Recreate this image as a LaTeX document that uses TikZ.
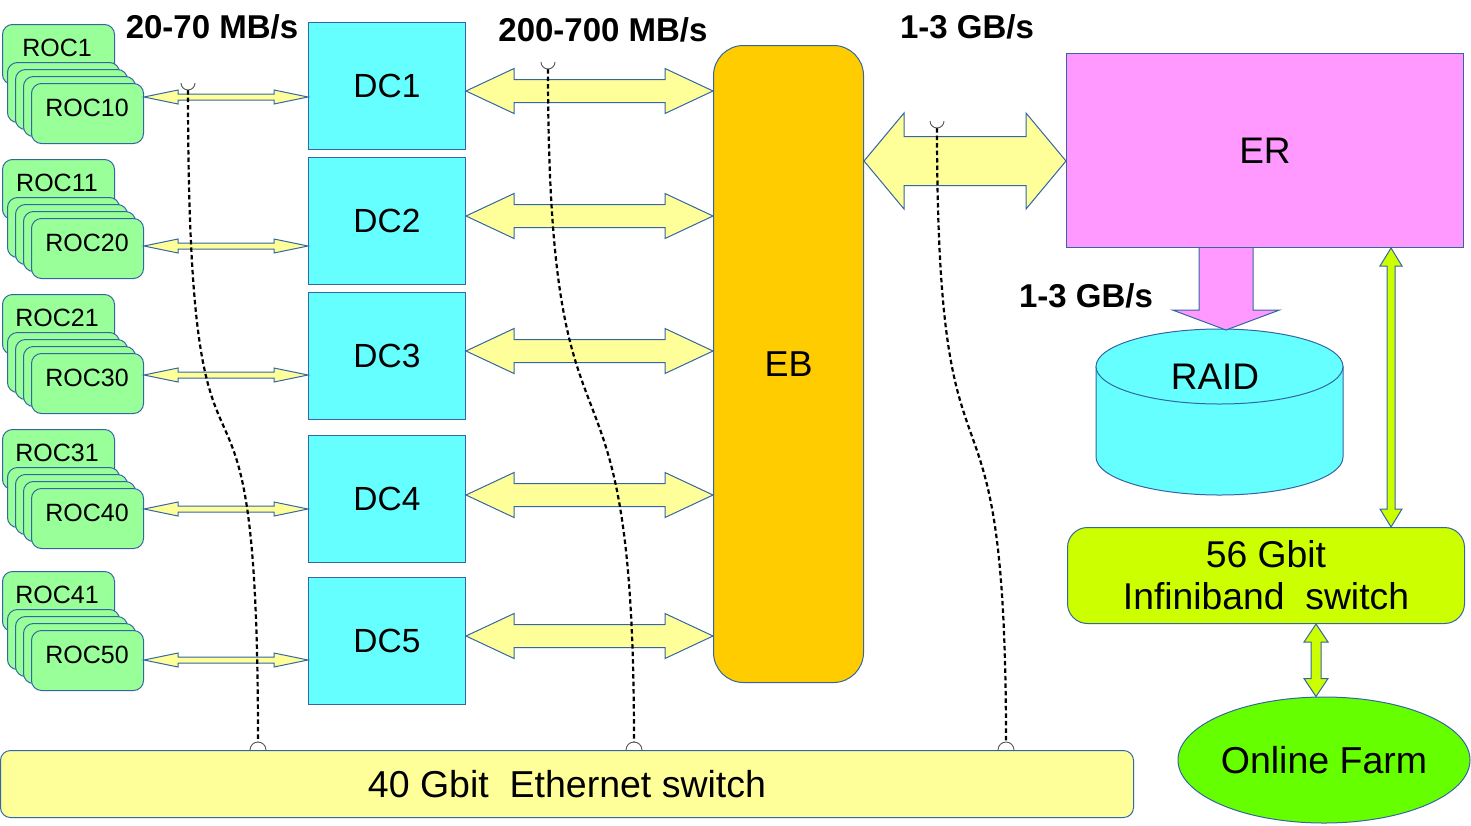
\documentclass[tikz,border=0pt]{standalone}
\usepackage{fontspec}
\setmainfont{Liberation Sans}
\usetikzlibrary{calc,shapes.geometric}
\definecolor{bl}{HTML}{3465A4}
\definecolor{rocg}{HTML}{99FF99}
\definecolor{dcc}{HTML}{66FFFF}
\definecolor{ebc}{HTML}{FFCC00}
\definecolor{erc}{HTML}{FF99FF}
\definecolor{yel}{HTML}{FFFF99}
\definecolor{limec}{HTML}{CCFF00}
\definecolor{farmc}{HTML}{66FF00}
\definecolor{cupc}{HTML}{555555}
% horizontal block double arrow: style, left anchor, right anchor, y, head length, head half, shaft half
\newcommand{\hdarrow}[7]{%
  \path[#1] let \p1=(#2), \p2=(#3), \p3=(0,#4) in
  (\x1,\y3) -- (\x1+#5,\y3+#6) -- (\x1+#5,\y3+#7) -- (\x2-#5,\y3+#7) -- (\x2-#5,\y3+#6) -- (\x2,\y3)
  -- (\x2-#5,\y3-#6) -- (\x2-#5,\y3-#7) -- (\x1+#5,\y3-#7) -- (\x1+#5,\y3-#6) -- cycle;}
% vertical block double arrow: style, top anchor, bottom anchor, x, head length, head half, shaft half
\newcommand{\vdarrow}[7]{%
  \path[#1] let \p1=(#2), \p2=(#3), \p3=(#4,0) in
  (\x3,\y1) -- (\x3+#6,\y1-#5) -- (\x3+#7,\y1-#5) -- (\x3+#7,\y2+#5) -- (\x3+#6,\y2+#5) -- (\x3,\y2)
  -- (\x3-#6,\y2+#5) -- (\x3-#7,\y2+#5) -- (\x3-#7,\y1-#5) -- (\x3-#6,\y1-#5) -- cycle;}
\tikzset{
  boxbase/.style={draw=bl, line width=1pt, inner sep=0pt, anchor=north west},
  rocbox/.style={boxbase, fill=rocg, rounded corners=10pt, minimum width=112pt, minimum height=60pt},
  roctext/.style={font=\fontsize{25}{29}\selectfont, inner sep=0pt},
  dcbox/.style={boxbase, fill=dcc, minimum width=157pt, minimum height=127pt, font=\fontsize{33.5}{40}\selectfont},
  yarrow/.style={draw=bl, line width=1pt, fill=yel, line join=miter},
  garrow/.style={draw=bl, line width=1pt, fill=limec},
  rate/.style={font=\bfseries\fontsize{33}{38}\selectfont, inner sep=0pt},
  dotline/.style={black, line width=2.2pt, dash pattern=on 4.5pt off 3pt},
  cup/.style={cupc, line width=0.9pt}
}
\begin{document}
\begin{tikzpicture}[x=1pt,y=-1pt]
\useasboundingbox (0,0) rectangle (1471,825);

% DC boxes
\foreach \T [count=\i] in {22,157,292,435,577}{
  \node[dcbox] (dc\i) at (308,\T) {DC\i};
}
% EB, ER
\node[boxbase, fill=ebc, rounded corners=30pt, minimum width=150pt, minimum height=637pt,
      font=\fontsize{36}{42}\selectfont] (eb) at (713,45) {EB};
\node[boxbase, fill=erc, minimum width=397pt, minimum height=194pt,
      font=\fontsize{37}{42}\selectfont] (er) at (1066,53) {ER};

% ROC groups with arrows
\foreach \T/\a/\b/\ay/\dy [count=\i] in {24/1/10/97/91, 159/11/20/246/216, 294/21/30/375/351, 429/31/40/509/495, 571/41/50/660/636}{
  \node[rocbox] (roc\i-a) at (2,\T) {};
  \node[rocbox] (roc\i-b) at (7,\T+38) {};
  \node[rocbox] (roc\i-c) at (15,\T+45) {};
  \node[rocbox] (roc\i-d) at (23,\T+52) {};
  \node[rocbox] (roc\i-e) at (31,\T+59) {};
  \node[roctext] (roct\i-a) at (57,\T+24) {ROC\a};
  \node[roctext] (roct\i-e) at (87,\T+84) {ROC\b};
  \hdarrow{yarrow}{roc\i-e.east}{dc\i.west}{\ay}{34}{7}{3}
  \hdarrow{yarrow}{dc\i.east}{eb.west}{\dy}{48}{22.5}{11.5}
}

% EB <-> ER
\hdarrow{yarrow}{eb.east}{er.west}{161}{40}{48}{24.5}

% RAID cylinder
\path[draw=bl, line width=1pt, fill=dcc] (1096,366.5) -- (1096,457)
  arc[start angle=180, end angle=360, x radius=123.5pt, y radius=38pt] -- (1343,366.5) -- cycle;
\path[draw=bl, line width=1pt, fill=dcc] (1219.5,366.5) ellipse[x radius=123.5pt, y radius=37.5pt];
\node[inner sep=0pt, font=\fontsize{37}{42}\selectfont] (raid) at (1215,377) {RAID};
\coordinate (raidtop) at (1226,330);

% ER -> RAID arrow
\path[draw=bl, line width=1pt, fill=erc] let \p1=(er.south), \p2=(raidtop) in
  (\x2+27pt,\y1) -- (\x2+27pt,\y2+20pt) -- (\x2+53.5pt,\y2+20pt) -- (\x2,\y2)
  -- (\x2-53.5pt,\y2+20pt) -- (\x2-27pt,\y2+20pt) -- (\x2-27pt,\y1);

% Infiniband switch and Online farm
\node[boxbase, fill=limec, rounded corners=20pt, minimum width=397pt, minimum height=96pt,
      align=center, font=\fontsize{37.3}{42}\selectfont] (ib) at (1067,527) {56 Gbit\\Infiniband\ \ switch};
\node[draw=bl, line width=1pt, fill=farmc, ellipse, inner sep=0pt, minimum width=292pt, minimum height=126pt,
      font=\fontsize{37.5}{42}\selectfont] (farm) at (1324,760) {Online Farm};
\vdarrow{garrow}{er.south}{ib.north}{1391}{18}{11}{4}
\vdarrow{garrow}{ib.south}{farm.north}{1316}{18}{12}{5}

% Ethernet switch
\node[boxbase, fill=yel, rounded corners=10pt, minimum width=1133pt, minimum height=67pt,
      font=\fontsize{37.5}{42}\selectfont] (eth) at (0,750) {40 Gbit\ \ Ethernet switch};

% rate labels
\node[rate] (r1) at (212,27) {20-70 MB/s};
\node[rate] (r2) at (603,30) {200-700 MB/s};
\node[rate] (r3) at (967,27) {1-3 GB/s};
\node[rate] (r4) at (1086,296) {1-3 GB/s};

% dotted links to ethernet switch
\coordinate (t1) at (188,90);  \coordinate (b1) at (258,742);
\coordinate (t2) at (548,69);  \coordinate (b2) at (634,742);
\coordinate (t3) at (937,128); \coordinate (b3) at (1006,742);
\draw[dotline] (t1) .. controls (188,596) and (258,260) .. (b1);
\draw[dotline] (t2) .. controls (548,517) and (634,293) .. (b2);
\draw[dotline] (t3) .. controls (937,548) and (1006,322) .. (b3);
\foreach \k in {1,2,3}{
  \draw[cup] ($(t\k)+(-7pt,7pt)$) arc[start angle=180, end angle=360, radius=7pt];
  \draw[cup] ($(b\k)+(-8pt,-8pt)$) arc[start angle=180, end angle=0, radius=8pt];
}
\end{tikzpicture}
\end{document}
